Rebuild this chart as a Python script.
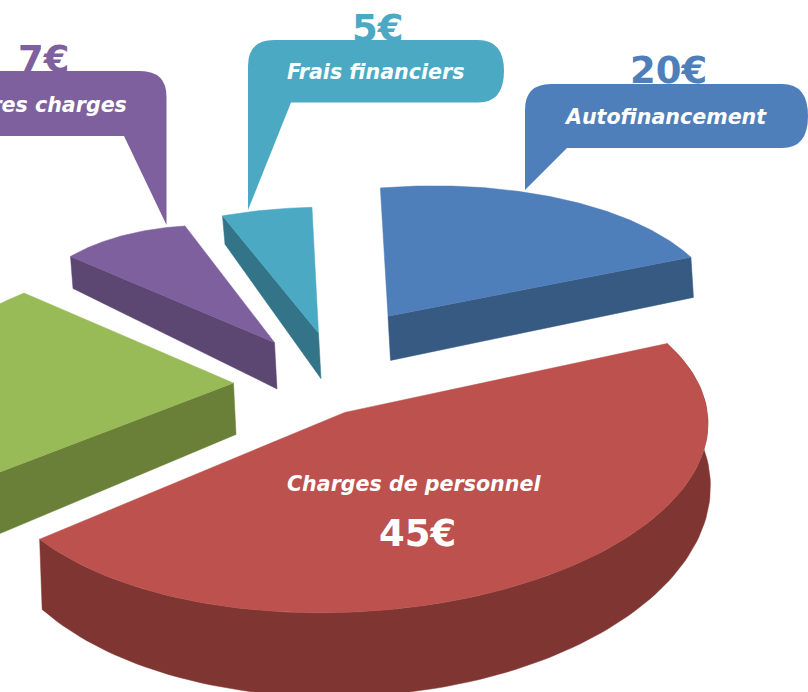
import numpy as np, plotly.graph_objects as go

labels = ["Autofinancement", "Charges de personnel", "", "Autres charges", "Frais financiers"]
values = [20, 45, 23, 7, 5]
value_labels = ["20€", "45€", "", "7€", "5€"]
top_colors = ["#4F7FBA", "#BC514D", "#98BA57", "#7D609D", "#4BA9C3"]
side_colors = ["#375A83", "#7F3633", "#6A8039", "#5C4672", "#347488"]

# exploded offset of each slice in the pie plane, first-slice angle
START = -0.0134936
off_x = [0.228946, 0.074907, -0.252531, -0.129254, -0.00420959]
off_y = [0.387471, -0.220592, 0.0242422, 0.257936, 0.294255]
# perspective of the pie plane onto the page, per slice
CAMERA = [
    [272.594, 26.4475, 319.459, -39.3293, -114.99, 373.065, -0.0873196, 0.078978],
    [344.886, 38.0394, 316.998, -18.3259, -111.808, 376.814, -0.00411193, 0.133762],
    [344.045, 42.7823, 320.346, -20.497, -106.191, 382.04, -0.00456329, 0.129313],
    [209.007, -91.0234, 291.022, 97.936, -171.346, 356.97, 0.319742, -0.319583],
    [269.265, -30.4648, 320.26, 6.76303, -140.749, 365.731, 0.0473152, -0.0882901],
]
# depth of the extrusion as a function of page position
DX, HA, HB, HC = 2.5, -3.9, 0.0129, 0.1365

cum = np.concatenate([[0], np.cumsum(values)]) / sum(values) * 2 * np.pi + START


def project(q, x, y):
    H = np.array([q[:3], q[3:6], [q[6], q[7], 1.0]])
    v = H @ np.stack([x, y, np.ones_like(x)])
    return v[0] / v[2], v[1] / v[2]


def lower(px, py):
    return px + DX, py + HA + HB * px + HC * py


fig = go.Figure()


def poly(px, py, color):
    px, py = list(px), list(py)
    fig.add_trace(go.Scatter(x=px + [px[0]], y=py + [py[0]], mode="lines", fill="toself", fillcolor=color,
                             line=dict(color=color, width=0.5), hoverinfo="skip", showlegend=False))


def radial(p0, p1, color):
    bx0, by0 = lower(*p0)
    bx1, by1 = lower(*p1)
    ex, ey = p1[0] - p0[0], p1[1] - p0[1]
    n = np.array([ey, -ex]) / np.hypot(ex, ey)
    if n @ np.array([bx0 - p0[0], by0 - p0[1]]) > 3:
        poly([p0[0], p1[0], bx1, bx0], [p0[1], p1[1], by1, by0], color)


for i in [2, 3, 4, 0, 1]:
    t = np.linspace(cum[i], cum[i + 1], 120)
    tx, ty = project(CAMERA[i], off_x[i] + np.sin(t), off_y[i] + np.cos(t))
    cx, cy = project(CAMERA[i], np.array([off_x[i]]), np.array([off_y[i]]))
    radial((cx[0], cy[0]), (tx[0], ty[0]), side_colors[i])
    radial((tx[-1], ty[-1]), (cx[0], cy[0]), side_colors[i])
    if i == 1:
        bx, by = lower(tx, ty)
        poly(np.r_[tx, bx[::-1]], np.r_[ty, by[::-1]], side_colors[i])
    poly(np.r_[cx, tx], np.r_[cy, ty], top_colors[i])


def callout(d, color):
    return dict(type="path", path=d, fillcolor=color, line=dict(width=0), xref="x", yref="y", layer="below")


shapes = [
    callout("M525,190 L525,110 Q525,84 551,84 L782,84 Q808,84 808,116 Q808,148 782,148 L567,148 Z", top_colors[0]),
    callout("M248,210 L248,66 Q248,40 274,40 L478,40 Q504,40 504,71 Q504,102.5 478,102.5 L291,102.5 Z", top_colors[4]),
    callout("M166.5,225 L166.5,97 Q166.5,71 140,71 L-120,71 L-120,136 L124,136 Z", top_colors[3]),
]


def text(x, y, s, size, color, italic=False, anchor="center"):
    fig.add_annotation(x=x, y=y, text=s, showarrow=False, xanchor=anchor, yanchor="middle", xref="x", yref="y",
                       font=dict(family="DejaVu Sans", size=size, color=color, weight="bold",
                                 style="italic" if italic else "normal"))


text(665.5, 117, labels[0], 20.6, "white", True)
text(668, 70, value_labels[0], 37, top_colors[0])
text(414, 484, labels[1], 20.6, "white", True)
text(417, 533, value_labels[1], 37, "white")
text(129, 105, labels[3], 20.6, "white", True, "right")
text(43.5, 59, value_labels[3], 37, top_colors[3])
text(375, 72, labels[4], 20.6, "white", True)
text(378, 28, value_labels[4], 37, top_colors[4])

fig.update_layout(width=808, height=692, margin=dict(l=0, r=0, t=0, b=0), paper_bgcolor="white", plot_bgcolor="white",
                  xaxis=dict(range=[0, 808], visible=False, fixedrange=True),
                  yaxis=dict(range=[692, 0], visible=False, fixedrange=True),
                  shapes=shapes, showlegend=False)
fig.write_html("out.html", config={"displayModeBar": False}, post_script="document.body.style.margin='0';")
